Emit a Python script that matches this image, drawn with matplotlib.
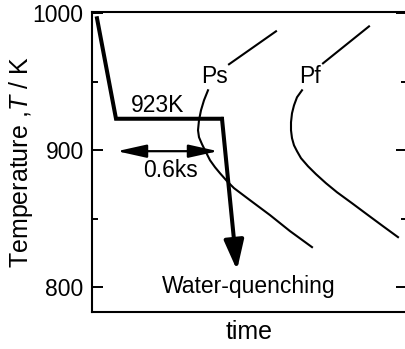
import matplotlib
matplotlib.use("Agg")
import matplotlib.pyplot as plt

plt.rcParams['font.family'] = ['Liberation Sans', 'DejaVu Sans']
plt.rcParams['mathtext.fontset'] = 'custom'
plt.rcParams['mathtext.rm'] = 'Liberation Sans'
plt.rcParams['mathtext.it'] = 'Liberation Sans:italic'

# heat treatment path: quench from 1000 K, hold at 923 K, water-quench
path_t = [0.5, 2.4, 13.0]
path_T = [996.4, 923.0, 923.0]
quench_end = (14.5, 812.4)

# hold time arrow at 900 K
hold_t = [2.5, 12.6]
hold_T = 899.3

# pearlite start curve (upper branch and lower C-curve)
ps_up_t = [13.7, 18.4]
ps_up_T = [962.8, 986.9]
ps_t = [11.6, 11.2, 10.9, 10.7, 10.6, 10.7, 11.0, 11.4, 11.8, 12.3, 12.8,
        13.5, 14.2, 15.8, 17.8, 19.8, 22.0]
ps_T = [943.8, 936.5, 929.2, 921.9, 914.6, 909.5, 904.4, 898.5, 892.7, 887.6,
        883.2, 877.4, 872.3, 863.5, 852.6, 840.9, 829.2]

# pearlite finish curve
pf_up_t = [23.1, 27.7]
pf_up_T = [963.5, 990.5]
pf_t = [21.0, 20.5, 20.2, 20.0, 19.9, 19.9, 20.0, 20.2, 20.5, 20.9, 21.6,
        22.4, 23.4, 24.5, 26.0, 27.6, 29.1, 30.6]
pf_T = [943.8, 938.7, 932.8, 927.0, 920.4, 914.6, 908.8, 903.6, 899.3, 894.2,
        888.3, 882.5, 875.9, 869.3, 861.3, 852.6, 844.5, 836.5]

major_ticks = [800, 900, 1000]
minor_ticks = [850, 950]

fig = plt.figure(figsize=(4.05, 3.49), dpi=100)
ax = fig.add_axes([92 / 405, 1 - 312 / 349, 315 / 405, 300 / 349])
ax.set_xlim(0, 31.5)
ax.set_ylim(781.8, 1001)

ax.plot(ps_up_t, ps_up_T, color='k', lw=1.5)
ax.plot(ps_t, ps_T, color='k', lw=1.5)
ax.plot(pf_up_t, pf_up_T, color='k', lw=1.5)
ax.plot(pf_t, pf_T, color='k', lw=1.5)

ax.plot(path_t, path_T, color='k', lw=2.9, solid_joinstyle='miter')
ax.annotate('', xy=quench_end, xytext=(path_t[-1], path_T[-1]),
            arrowprops=dict(arrowstyle='-|>,head_length=0.9,head_width=0.3',
                            lw=2.9, color='k', mutation_scale=20,
                            shrinkA=0, shrinkB=0))
ax.annotate('', xy=(hold_t[0], hold_T), xytext=(hold_t[1], hold_T),
            arrowprops=dict(arrowstyle='<|-|>,head_length=0.9,head_width=0.2',
                            lw=1.6, color='k', mutation_scale=20,
                            shrinkA=0, shrinkB=0))

fs = 16.5
ax.text(6.6, 927.7, '923K', fontsize=fs, ha='center', va='baseline')
ax.text(7.8, 880.3, '0.6ks', fontsize=fs, ha='center', va='baseline')
ax.text(12.25, 948.9, 'Ps', fontsize=fs, ha='center', va='baseline')
ax.text(21.8, 948.9, 'Pf', fontsize=fs, ha='center', va='baseline')
ax.text(15.7, 795.6, 'Water-quenching', fontsize=fs, ha='center', va='baseline')

ax.set_yticks(major_ticks)
ax.set_yticks(minor_ticks, minor=True)
ax.set_xticks([])
ax.tick_params(axis='y', which='both', direction='in', right=True, labelsize=fs,
               width=1.4, pad=6)
ax.tick_params(axis='y', which='major', length=8)
ax.tick_params(axis='y', which='minor', length=4)
for s in ax.spines.values():
    s.set_linewidth(1.5)

ax.set_xlabel('time', fontsize=18, labelpad=6)
ax.set_ylabel('Temperature ,$T$ / K', fontsize=18, labelpad=-2)

fig.savefig('out.png', dpi=100)
